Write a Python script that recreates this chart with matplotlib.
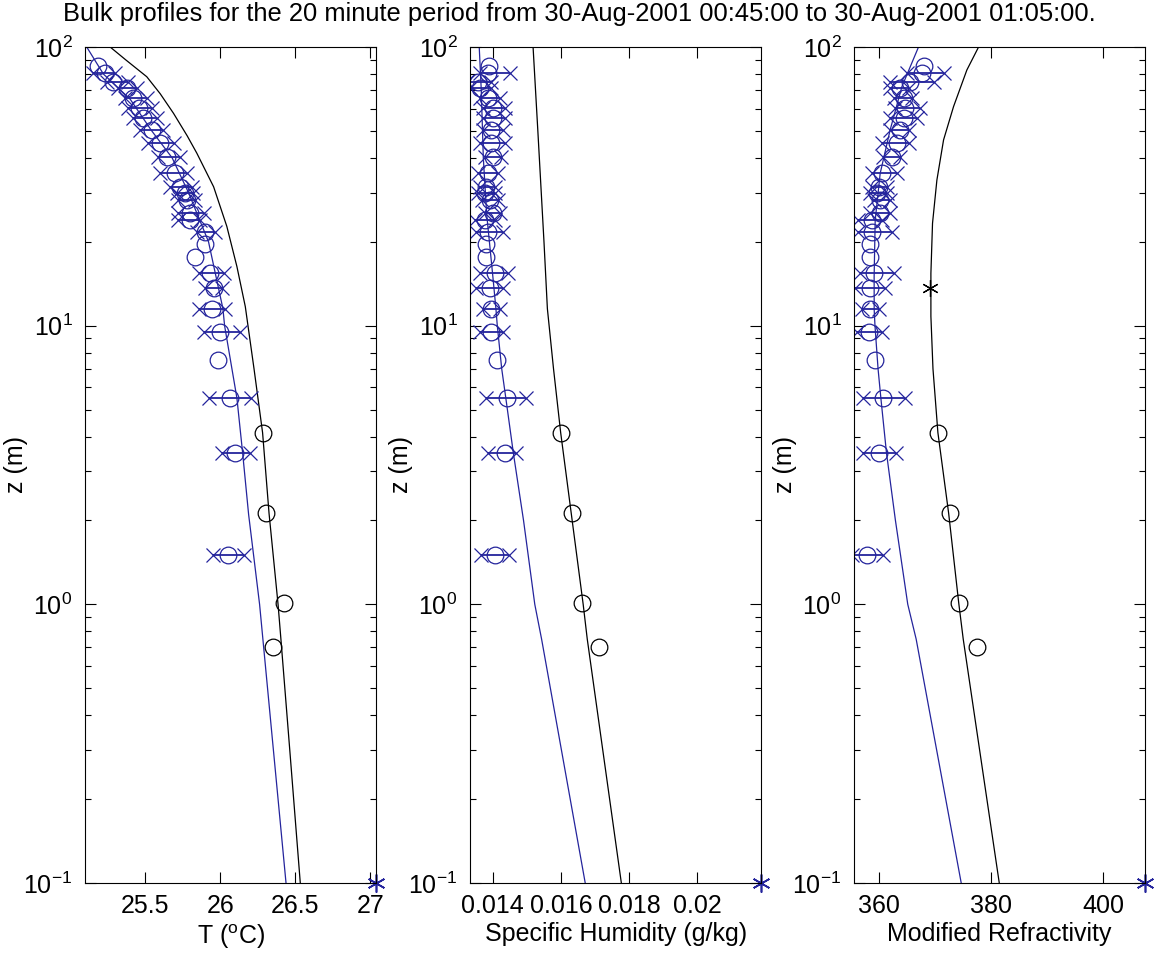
import numpy as np
import matplotlib.pyplot as plt
from matplotlib.ticker import LogLocator, NullFormatter

plt.rcParams['font.family'] = 'Liberation Sans'
plt.rcParams['mathtext.fontset'] = 'custom'
plt.rcParams['mathtext.rm'] = 'Liberation Sans'
plt.rcParams['mathtext.default'] = 'regular'

# ---- measurement heights (m) of the profiler
z_obs = [85.7, 80.9, 75.1, 71.1, 65.4, 60.2, 55.5, 50.4, 45.4, 40.4, 35.2, 31.5, 29.9, 28.2,
         25.3, 23.9, 21.7, 19.6, 17.7, 15.5, 13.6, 11.5, 9.5, 7.5, 5.5, 3.5, 1.5]
# mast sensors
z_mast = [4.13, 2.12, 1.01, 0.705]
z_surf = 0.1

# ---- temperature (C)
T_obs = [25.189, 25.233, 25.289, 25.378, 25.422, 25.456, 25.489, 25.544, 25.600, 25.644, 25.700,
         25.733, 25.767, 25.778, 25.800, 25.800, 25.900, 25.900, 25.833, 25.933, 25.956, 25.944,
         26.000, 25.984, 26.067, 26.100, 26.051]
T_lo = [np.nan, 25.156, 25.244, 25.322, 25.367, 25.389, 25.422, 25.467, 25.522, 25.589, 25.600,
        25.667, 25.711, 25.722, 25.722, 25.722, 25.844, np.nan, np.nan, 25.856, 25.900, 25.856,
        25.889, np.nan, 25.922, 26.011, 25.951]
T_hi = [np.nan, 25.300, 25.389, 25.444, 25.511, 25.544, 25.578, 25.622, 25.689, 25.733, 25.778,
        25.811, 25.822, 25.833, 25.889, 25.867, 25.967, np.nan, np.nan, 26.022, 26.011, 26.033,
        26.133, np.nan, 26.204, 26.196, 26.156]
T_mast = [26.282, 26.304, 26.427, 26.351]
T_sst = 27.04

# ---- specific humidity
q_obs = [0.01389, 0.01386, 0.01357, 0.01362, 0.01386, 0.01401, 0.01401, 0.01396, 0.01396, 0.01401,
         0.01386, 0.01381, 0.01377, 0.01391, 0.01399, 0.01377, 0.01386, 0.01381, 0.01380, 0.01406,
         0.01391, 0.01394, 0.01396, 0.01413, 0.01442, 0.01435, 0.01406]
q_lo = [np.nan, 0.01362, 0.01323, 0.01333, 0.01362, 0.01372, 0.01372, 0.01372, 0.01362, 0.01377,
        0.01357, 0.01362, 0.01357, 0.01367, 0.01377, 0.01347, 0.01352, np.nan, np.nan, 0.01362,
        0.01352, 0.01372, 0.01362, np.nan, 0.01381, 0.01386, 0.01365]
q_hi = [np.nan, 0.01450, 0.01396, 0.01396, 0.01420, 0.01435, 0.01435, 0.01430, 0.01435, 0.01425,
        0.01416, 0.01406, 0.01406, 0.01416, 0.01420, 0.01406, 0.01430, np.nan, np.nan, 0.01445,
        0.01430, 0.01420, 0.01430, np.nan, 0.01497, 0.01469, 0.01448]
q_mast = [0.01599, 0.01632, 0.01663, 0.01710]
q_sst = 0.02188

# ---- modified refractivity
N_obs = [367.92, 367.62, 365.54, 363.75, 364.35, 364.64, 364.35, 363.75, 363.15, 362.26, 360.48,
         359.88, 359.70, 360.18, 360.06, 358.69, 358.69, 358.39, 358.39, 358.99, 358.39, 358.39,
         358.21, 359.29, 360.77, 359.88, 357.80]
N_lo = [np.nan, 364.94, 361.96, 361.96, 362.56, 362.86, 361.96, 361.96, 360.48, 360.77, 358.69,
        358.69, 358.39, 358.99, 358.39, 356.31, 356.31, np.nan, np.nan, 356.61, 355.71, 356.90,
        356.01, np.nan, 357.20, 357.20, 355.12]
N_hi = [np.nan, 371.49, 369.70, 365.24, 365.83, 367.32, 366.73, 365.24, 365.24, 363.75, 363.15,
        361.37, 361.37, 361.96, 361.96, 360.48, 362.26, np.nan, np.nan, 362.56, 361.07, 359.88,
        360.48, np.nan, 364.64, 363.04, 360.77]
N_mast = [370.48, 372.56, 374.17, 377.44]
N_sst = 407.5
z_star, N_star = 13.7, 369.1

# ---- bulk model profiles
zT_blue = [100, 80, 65, 50, 40, 30, 20, 11.5, 10, 5.5, 3.5, 2.1, 1.0, 0.75, 0.3, 0.1]
T_blue = [25.111, 25.222, 25.40, 25.544, 25.68, 25.789, 25.922, 26.018, 26.029, 26.111,
          26.149, 26.189, 26.262, 26.284, 26.354, 26.438]
zT_blk = [100, 90, 78.2, 68, 57.8, 48, 41.6, 31.5, 22.7, 16.3, 11.7, 7, 4.13, 2.12, 1.0, 0.75,
          0.3, 0.1]
T_blk = [25.267, 25.37, 25.511, 25.60, 25.689, 25.78, 25.844, 25.956, 26.044, 26.111, 26.167,
         26.225, 26.282, 26.325, 26.385, 26.404, 26.463, 26.533]

zq_blue = [100, 70, 40, 25, 15, 11.5, 10, 7, 5.5, 3.5, 2, 1.0, 0.75, 0.1]
q_blue = [0.01360, 0.01366, 0.01372, 0.01382, 0.01400, 0.01409, 0.01413, 0.01426, 0.01438,
          0.01460, 0.01490, 0.01523, 0.01543, 0.01671]
zq_blk = [100, 50, 20, 11.5, 7, 4.13, 2.12, 1.0, 0.75, 0.1]
q_blk = [0.01518, 0.01532, 0.01550, 0.01560, 0.01578, 0.01599, 0.01630, 0.01665, 0.01677, 0.01777]

zN_blue = [100, 72, 50.4, 35.2, 23.9, 15, 11.4, 10, 7, 5.5, 3.5, 2, 1.0, 0.75, 0.1]
N_blue = [367.02, 364.05, 361.96, 360.18, 359.29, 359.1, 359.11, 359.25, 359.8, 360.3, 361.3,
          362.9, 365.1, 366.6, 374.64]
zN_blk = [100, 82.7, 61.1, 46.4, 33.3, 23.3, 15.4, 10.8, 7, 4.13, 2.12, 1.01, 0.75, 0.1]
N_blk = [377.74, 375.65, 373.27, 371.49, 370.30, 369.52, 369.23, 369.23, 369.6, 370.48, 372.4,
         374.2, 375.0, 381.43]

blue = '#24249c'
fs = 18

fig = plt.figure(figsize=(11.54, 9.59), dpi=100)
fig.text(0.502, 0.985, 'Bulk profiles for the 20 minute period from 30-Aug-2001 00:45:00 '
         'to 30-Aug-2001 01:05:00.', ha='center', va='center', fontsize=18.4)

panels = [
    (0.0737, (25.1, 27.04), [25.5, 26, 26.5, 27], ['25.5', '26', '26.5', '27'], r'T ($^o$C)',
     T_obs, T_lo, T_hi, T_mast, T_sst, zT_blue, T_blue, zT_blk, T_blk),
    (0.4073, (0.01333, 0.02188), [0.014, 0.016, 0.018, 0.02], ['0.014', '0.016', '0.018', '0.02'],
     'Specific Humidity (g/kg)',
     q_obs, q_lo, q_hi, q_mast, q_sst, zq_blue, q_blue, zq_blk, q_blk),
    (0.7400, (355.5, 407.5), [360, 380, 400], ['360', '380', '400'], 'Modified Refractivity',
     N_obs, N_lo, N_hi, N_mast, N_sst, zN_blue, N_blue, zN_blk, N_blk),
]

axes = []
for (left, xlim, xt, xtl, xlab, obs, lo, hi, mast, sst, zb, xb, zk, xk) in panels:
    ax = fig.add_axes([left, 0.0793, 0.2525, 0.8717])
    axes.append(ax)
    ax.set_yscale('log')
    # model profiles
    ax.plot(xb, zb, color=blue, lw=0.9)
    ax.plot(xk, zk, color='black', lw=0.9)
    # profiler means with spread
    ax.hlines(z_obs, lo, hi, color=blue, lw=1.3)
    ax.plot(lo, z_obs, 'x', color=blue, ms=10.5, mew=0.9)
    ax.plot(hi, z_obs, 'x', color=blue, ms=10.5, mew=0.9)
    ax.plot(obs, z_obs, 'o', mfc='none', mec=blue, ms=12, mew=0.9)
    # mast sensors
    ax.plot(mast, z_mast, 'o', mfc='none', mec='black', ms=12, mew=0.9)
    # sea surface value
    ax.plot(sst, z_surf, marker=(6, 2, 0), color=blue, ms=13, mew=1.2, ls='none', clip_on=False)

    ax.set_xlim(*xlim)
    ax.set_ylim(0.1, 100)
    ax.set_xticks(xt)
    ax.set_xticklabels(xtl)
    ax.yaxis.set_major_locator(LogLocator(base=10, numticks=10))
    ax.yaxis.set_minor_locator(LogLocator(base=10, subs=np.arange(2, 10), numticks=10))
    ax.yaxis.set_minor_formatter(NullFormatter())
    ax.tick_params(which='both', direction='in', top=True, right=True, width=0.8,
                   labelsize=fs)
    ax.tick_params(which='major', length=8)
    ax.tick_params(which='minor', length=4)
    ax.tick_params(axis='x', pad=8)
    ax.tick_params(axis='y', pad=9)
    for sp in ax.spines.values():
        sp.set_linewidth(0.8)
    ax.set_xlabel(xlab, fontsize=fs, labelpad=3)
    ax.set_ylabel('z (m)', fontsize=fs)
    ax.yaxis.set_label_coords(-0.195, 0.5)

# extra marker on the refractivity profile
axes[2].plot(N_star, z_star, marker=(6, 2, 0), color='black', ms=12, mew=0.9, ls='none')

fig.savefig('out.png', dpi=100)
